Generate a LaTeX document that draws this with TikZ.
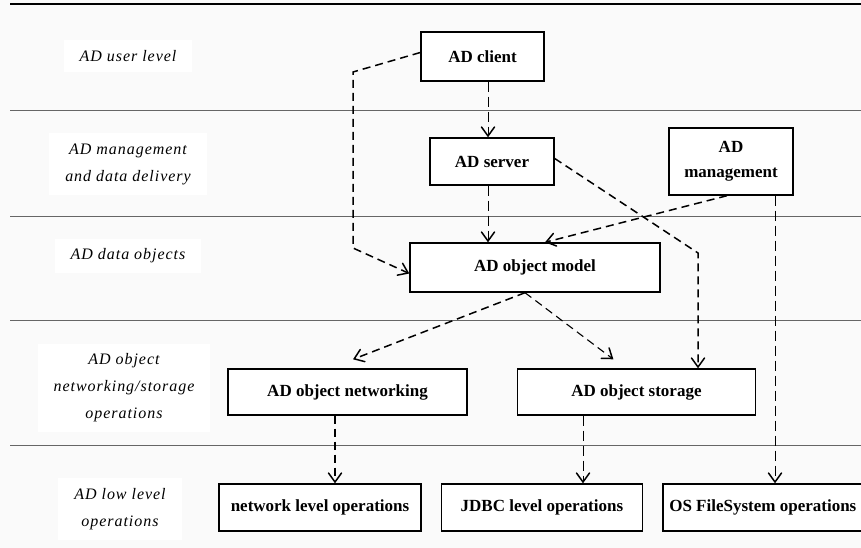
\documentclass[tikz,border=0pt]{standalone}
\usepackage{fontspec}
\setmainfont{Liberation Serif}
\usetikzlibrary{arrows.meta, positioning}

\begin{document}
\begin{tikzpicture}[
  x=1pt, y=-1pt,
  box/.style={draw, line width=1.4pt, fill=white, align=center, inner sep=2pt, font=\fontsize{17}{25}\selectfont\bfseries},
  layer/.style={fill=white, align=center, inner xsep=16pt, inner ysep=10pt, font=\fontsize{16}{27}\selectfont\itshape\addfontfeatures{LetterSpace=6}},
  sep/.style={draw=black!60, line width=0.8pt},
  tip/.style={-{Straight Barb[length=9pt, width=13pt, line width=1.5pt, line cap=round]}},
  lightlink/.style={tip, dash pattern=on 10pt off 5pt, line width=0.7pt},
  heavylink/.style={tip, dash pattern=on 8pt off 5pt, line width=1.5pt},
]
\fill[black!2] (0,0) rectangle (861,548);
\useasboundingbox (0,0) rectangle (861,548);

% layer separators
\draw[line width=1.2pt] (10,4) -- (861,4);
\draw[sep] (10,110) -- (861,110);
\draw[sep] (10,216) -- (861,216);
\draw[sep] (10,320) -- (861,320);
\draw[sep] (10,445) -- (861,445);

% layer names
\node[layer] (lvluser) at (128,56) {AD user level};
\node[layer] (lvlmgmt) at (128,164) {AD management\\and data delivery};
\node[layer] (lvldata) at (128,256) {AD data objects};
\node[layer] (lvlobj) at (124,388) {AD object\\networking/storage\\operations};
\node[layer] (lvllow) at (120,509) {AD low level\\operations};

% components
\node[box, minimum width=123, minimum height=49] (client) at (482.5,56.5) {AD client};
\node[box, minimum width=124, minimum height=47] (server) at (492,161.5) {AD server};
\node[box, minimum width=124, minimum height=67] (mgmt) at (731,161.5) {AD\\management};
\node[box, minimum width=250, minimum height=49] (model) at (535,267.5) {AD object model};
\node[box, minimum width=239, minimum height=46] (net) at (347.5,392) {AD object networking};
\node[box, minimum width=238, minimum height=46] (store) [right=49 of net] {AD object storage};
\node[box, minimum width=202, minimum height=47] (netops) at (320,507.5) {network level operations};
\node[box, minimum width=201, minimum height=47] (jdbc) [right=19 of netops] {JDBC level operations};
\node[box, minimum width=200, minimum height=47] (osfs) [right=19 of jdbc] {OS FileSystem operations};

% bends and columns
\coordinate (k1) at (353,72);
\coordinate (k2) at (353,248);
\coordinate (k3) at (698,253);
\coordinate (cx) at (488,0);
\coordinate (fx) at (775,0);
\coordinate (nx) at (335,0);
\coordinate (jx) at (583,0);

\draw[heavylink] ([yshift=4pt]client.west) -- (k1) -- (k2) -- ([yshift=-6pt]model.west);
\draw[lightlink] (client.south -| cx) -- (server.north -| cx);
\draw[lightlink] (server.south -| cx) -- (model.north -| cx);
\draw[heavylink] ([yshift=3pt]server.east) -- (k3) -- (store.north -| k3);
\draw[heavylink] ([xshift=-4pt]mgmt.south) -- ([xshift=10pt]model.north);
\draw[lightlink] (mgmt.south -| fx) -- (osfs.north -| fx);
\draw[heavylink] ([xshift=-10pt]model.south) -- ([xshift=5.5pt,yshift=9pt]net.north);
\draw[heavylink, line width=1.1pt] ([xshift=-10pt]model.south) -- ([xshift=-23pt,yshift=9pt]store.north);
\draw[heavylink] (net.south -| nx) -- (netops.north -| nx);
\draw[lightlink] (store.south -| jx) -- (jdbc.north -| jx);
\end{tikzpicture}
\end{document}
